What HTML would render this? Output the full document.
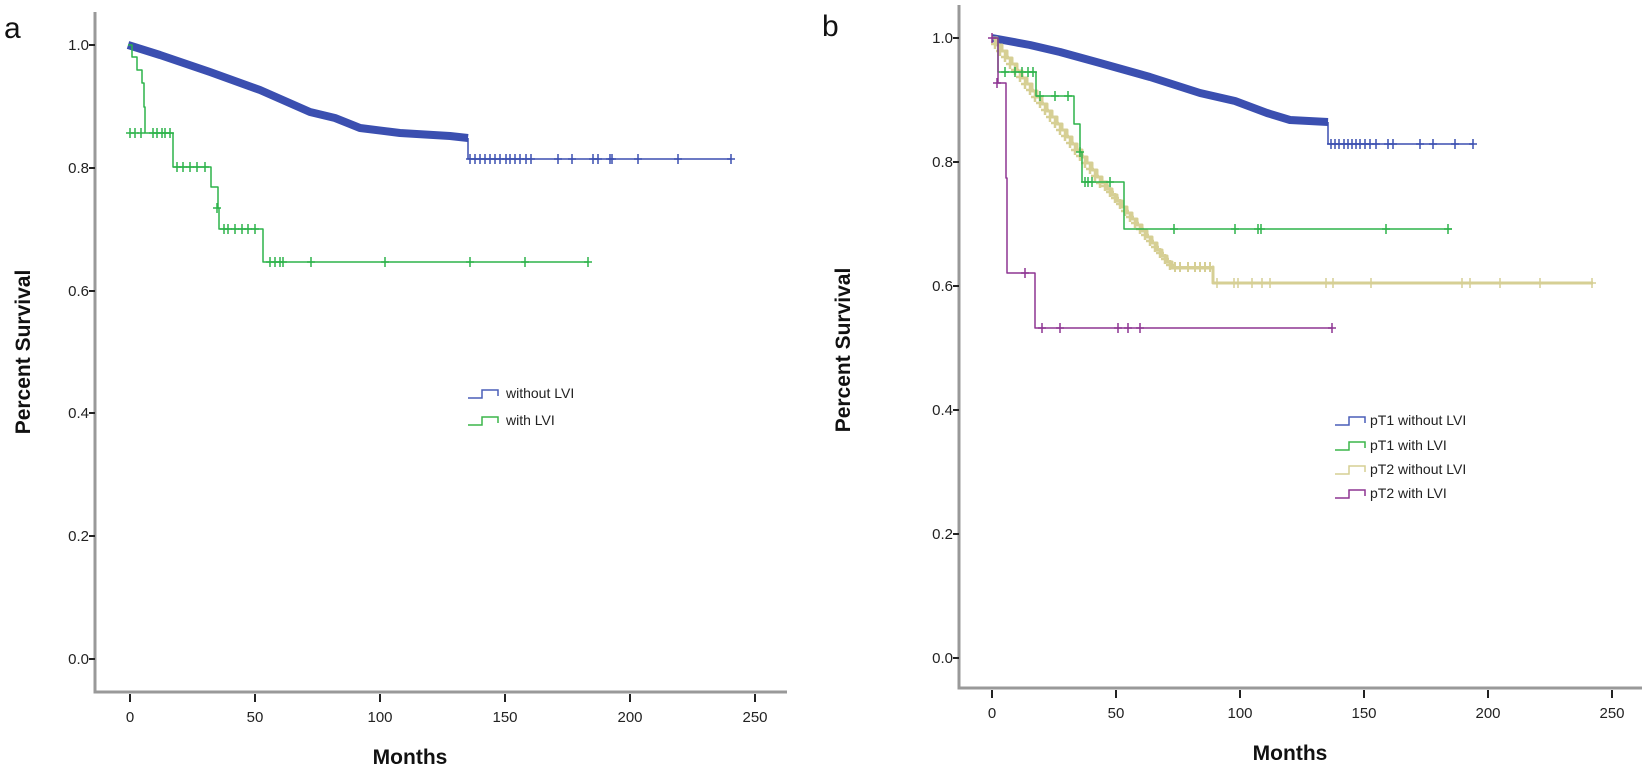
<!DOCTYPE html>
<html><head><meta charset="utf-8"><style>
html,body{margin:0;padding:0;background:#fff;}
svg{display:block;font-family:"Liberation Sans",Arial,sans-serif;}
</style></head><body>
<svg id="s" width="1650" height="771" viewBox="0 0 1650 771" xmlns="http://www.w3.org/2000/svg">
<g fill="none" stroke="#999" stroke-width="3">
<polyline points="95,12 95,692 787,692"/>
<polyline points="959,5 959,688 1642,688"/>
</g>
<g font-size="15" fill="#222" text-anchor="end">
<text x="89" y="50">1.0</text><text x="89" y="173">0.8</text><text x="89" y="296">0.6</text><text x="89" y="418">0.4</text><text x="89" y="541">0.2</text><text x="89" y="664">0.0</text>
<text x="953" y="43">1.0</text><text x="953" y="167">0.8</text><text x="953" y="291">0.6</text><text x="953" y="415">0.4</text><text x="953" y="539">0.2</text><text x="953" y="663">0.0</text>
</g>
<g font-size="15" fill="#222" text-anchor="middle">
<text x="130" y="722">0</text><text x="255" y="722">50</text><text x="380" y="722">100</text><text x="505" y="722">150</text><text x="630" y="722">200</text><text x="755" y="722">250</text>
<text x="992" y="718">0</text><text x="1116" y="718">50</text><text x="1240" y="718">100</text><text x="1364" y="718">150</text><text x="1488" y="718">200</text><text x="1612" y="718">250</text>
</g>
<g id="ticks" stroke="#222" stroke-width="2"></g>
<g font-size="21" font-weight="bold" fill="#111" text-anchor="middle">
<text x="410" y="764">Months</text><text x="1290" y="760">Months</text>
<text transform="translate(30,352) rotate(-90)">Percent Survival</text>
<text transform="translate(850,350) rotate(-90)">Percent Survival</text>
</g>
<text x="4" y="38" font-size="30" fill="#111">a</text>
<text x="822" y="36" font-size="30" fill="#111">b</text>
<g id="curves"></g>
<g font-size="14" fill="#222">
<polyline points="468,398 482,398 482,390 498,390 498,396" fill="none" stroke="#4a5fb8" stroke-width="1.5"/>
<text x="506" y="398">without LVI</text>
<polyline points="468,425 482,425 482,417 498,417 498,423" fill="none" stroke="#3cb54a" stroke-width="1.5"/>
<text x="506" y="425">with LVI</text>
<polyline points="1335,425 1349,425 1349,417 1365,417 1365,423" fill="none" stroke="#4a5fb8" stroke-width="1.5"/>
<text x="1370" y="425">pT1 without LVI</text>
<polyline points="1335,450 1349,450 1349,442 1365,442 1365,448" fill="none" stroke="#3cb54a" stroke-width="1.5"/>
<text x="1370" y="450">pT1 with LVI</text>
<polyline points="1335,474 1349,474 1349,466 1365,466 1365,472" fill="none" stroke="#d6cf94" stroke-width="1.5"/>
<text x="1370" y="474">pT2 without LVI</text>
<polyline points="1335,498 1349,498 1349,490 1365,490 1365,496" fill="none" stroke="#8e3592" stroke-width="1.5"/>
<text x="1370" y="498">pT2 with LVI</text>
</g>
</svg>
<script>
var NS="http://www.w3.org/2000/svg";
var T=document.getElementById('ticks'),C=document.getElementById('curves');
function ln(p,x1,y1,x2,y2,c,w){var l=document.createElementNS(NS,'line');l.setAttribute('x1',x1);l.setAttribute('y1',y1);l.setAttribute('x2',x2);l.setAttribute('y2',y2);l.setAttribute('stroke',c);l.setAttribute('stroke-width',w||2);p.appendChild(l);}
[45,168,291,413,536,659].forEach(function(y){ln(T,89,y,95,y,'#222');});
[38,162,286,410,534,658].forEach(function(y){ln(T,953,y,959,y,'#222');});
for(var i=0;i<6;i++){ln(T,130+125*i,694,130+125*i,702,'#222');ln(T,992+124*i,690,992+124*i,698,'#222');}
function pl(pts,c,w){var p=document.createElementNS(NS,'polyline');p.setAttribute('points',pts.map(function(a){return a.join(',')}).join(' '));p.setAttribute('fill','none');p.setAttribute('stroke',c);p.setAttribute('stroke-width',w);p.setAttribute('stroke-linejoin','round');C.appendChild(p);}
function stairs(pts){var o=[pts[0]];for(var i=1;i<pts.length;i++){o.push([pts[i][0],pts[i-1][1]]);o.push(pts[i]);}return o;}
function cr(xs,y,c,w){xs.forEach(function(x){ln(C,x-4,y,x+4,y,c,w||1.5);ln(C,x,y-5,x,y+5,c,w||1.5);});}
var BL='#3b4fb0',GR='#2db34a',TN='#d6cf94',PU='#8e3592';
// panel a blue band
pl([[128,45],[160,55],[210,72],[260,90],[310,112],[335,118],[360,128],[400,133],[450,136],[468,138]],BL,8);
pl([[468,138],[468,159],[731,159]],BL,1.5);
cr([470,475,480,485,490,495,500,506,510,515,520,526,531,558,572,593,598,610,612,638,678,731],159,BL);
// panel a green
var g=stairs([[128,45],[132,57],[137,70],[142,83],[144,107],[145,133],[173,133],[173,167],[211,167],[211,187],[218,187],[218,208],[219,229],[263,229],[263,262],[588,262]]);
pl(g,GR,1.5);
cr([130,135,141,153,157,162,165,170],133,GR);cr([177,183,190,197,205],167,GR);cr([217],208,GR);cr([224,228,235,242,248,255],229,GR);cr([270,275,280,283,311,385,470,525,588],262,GR);
// panel b blue band
pl([[992,38],[1030,45],[1060,52],[1100,63],[1150,77],[1200,93],[1235,101],[1267,113],[1290,120],[1328,122]],BL,8);
pl([[1328,122],[1328,144],[1473,144]],BL,1.5);
cr([1331,1335,1339,1344,1348,1352,1356,1360,1365,1370,1376,1388,1393,1420,1433,1455,1473],144,BL);
// panel b tan
var t=[[992,38]];for(var i=1;i<=36;i++){var x=992+i*5,y;if(x<=1100)y=38+(x-992)*1.32;else if(x<=1172)y=180+(x-1100)*1.22;else y=267;t.push([x,Math.round(y)]);}
t.push([1213,267],[1213,283],[1593,283]);
pl(stairs(t),TN,3);
var tx=[];for(var i=0;i<36;i++){tx.push([995+i*5,Math.round((995+i*5<=1100)?40+(995+i*5-992)*1.32:180+(995+i*5-1100)*1.22)]);}
tx.forEach(function(p){cr([p[0]],p[1],TN,2.5);});
cr([1175,1180,1188,1195,1200,1205,1210],267,TN,2);cr([1217,1234,1238,1252,1262,1270,1326,1333,1371,1462,1470,1500,1540,1592],283,TN);
// panel b green
pl(stairs([[992,38],[998,72],[1036,72],[1036,96],[1074,96],[1074,124],[1080,152],[1082,182],[1124,182],[1124,229],[1452,229]]),GR,1.5);
cr([1005,1015,1022,1028,1033],72,GR);cr([1040,1055,1068],96,GR);cr([1080],152,GR);cr([1085,1088,1092,1110],182,GR);cr([1174,1235,1258,1261,1386,1448],229,GR);
// panel b purple
pl(stairs([[992,38],[998,83],[1006,178],[1007,273],[1035,273],[1035,328],[1332,328]]),PU,1.5);
cr([992],38,PU);cr([997],83,PU);cr([1025],273,PU);cr([1042,1060,1118,1128,1140,1332],328,PU);
</script>
</body></html>
